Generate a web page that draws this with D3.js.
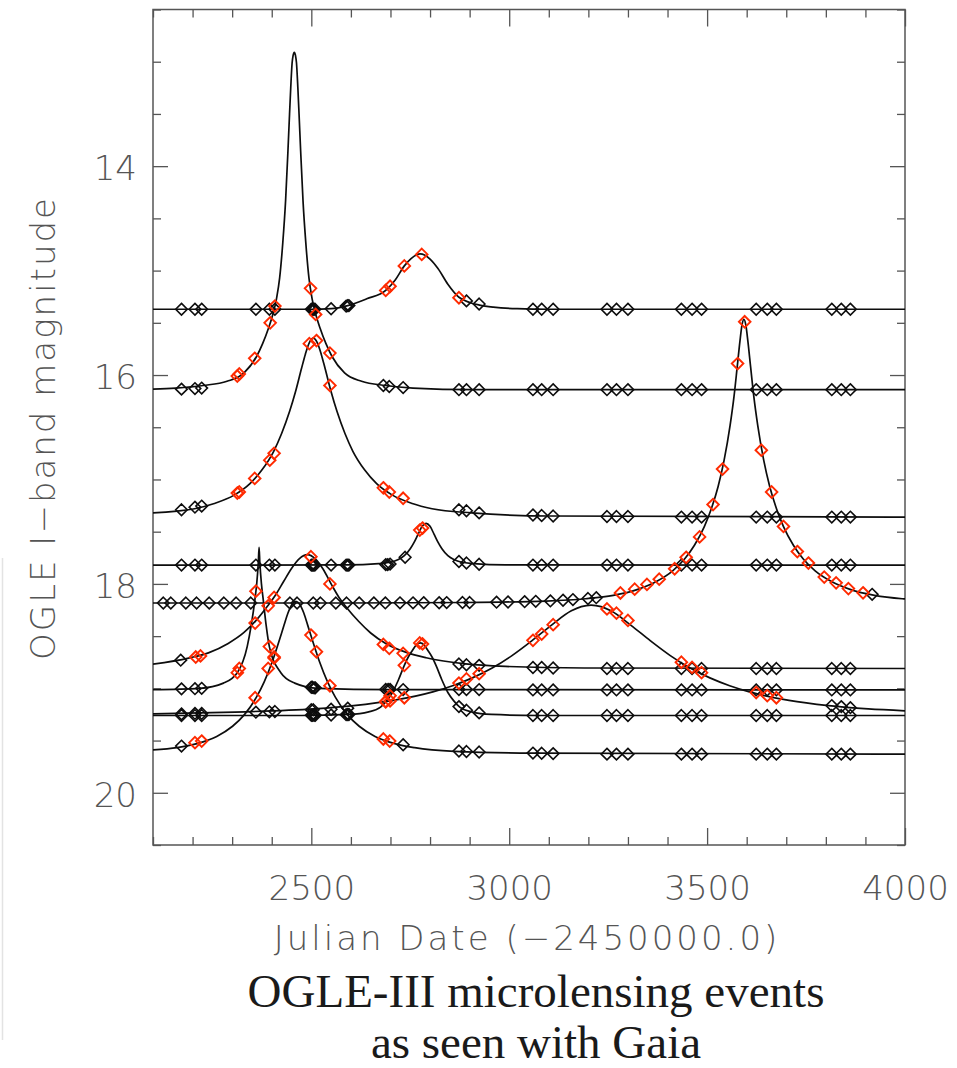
<!DOCTYPE html>
<html>
<head>
<meta charset="utf-8">
<script src="https://cdn.jsdelivr.net/npm/d3@7"></script>
<style>
  html, body { margin: 0; padding: 0; background: #fff; }
  svg { display: block; }
  .thin { font-family: "DejaVu Sans ExtraLight", "DejaVu Sans", sans-serif; font-weight: 200; fill: #555; }
</style>
</head>
<body>
<svg id="chart" width="957" height="1068"></svg>
<script>
// ---------------- axes ----------------
const xTicksMajor = [2500, 3000, 3500, 4000];
const yTicksMajor = [14, 16, 18, 20];
const xLabel = "Julian Date (\u22122450000.0)";
const yLabel = "OGLE I\u2212band magnitude";
const titleLines = ["OGLE-III microlensing events", "as seen with Gaia"];

// ---------------- model light curves [JD-2450000, I mag] ----------------
const lineA = [[2100,15.37],[2500,15.37],[2550,15.365],[2592,15.335],[2640,15.27],[2688,15.19],[2712,15.09],[2735,14.955],[2752,14.885],[2765,14.85],[2775,14.84],[2786,14.85],[2800,14.89],[2820,14.98],[2845,15.13],[2873,15.255],[2900,15.305],[2925,15.33],[2960,15.35],[3020,15.365],[3100,15.37],[4000,15.37]];
const lineB = [[2100,16.135],[2157,16.125],[2227,16.10],[2287,16.06],[2330,15.98],[2362,15.82],[2377,15.70],[2392,15.55],[2402,15.43],[2412,15.27],[2420,15.07],[2428,14.73],[2435,14.33],[2441,13.85],[2445,13.5],[2448,13.25],[2451.5,13.01],[2454,12.94],[2457,12.91],[2460,12.94],[2462.5,13.01],[2466,13.25],[2469,13.5],[2473,13.85],[2479,14.33],[2486,14.73],[2494,15.07],[2502,15.27],[2512,15.43],[2522,15.55],[2537,15.70],[2552,15.82],[2584,15.98],[2627,16.06],[2687,16.10],[2757,16.125],[2907,16.14],[4000,16.14]];
const lineC = [[2100,17.32],[2205,17.28],[2255,17.23],[2305,17.15],[2345,17.04],[2375,16.91],[2405,16.73],[2425,16.56],[2445,16.35],[2460,16.16],[2475,15.94],[2485,15.80],[2495,15.69],[2505,15.647],[2515,15.69],[2525,15.80],[2535,15.94],[2550,16.16],[2565,16.35],[2585,16.56],[2605,16.73],[2635,16.91],[2665,17.04],[2705,17.15],[2755,17.23],[2805,17.28],[2905,17.32],[3105,17.35],[4000,17.36]];
const lineD = [[2100,17.82],[2590,17.818],[2670,17.805],[2700,17.793],[2720,17.767],[2735,17.73],[2750,17.664],[2760,17.60],[2770,17.523],[2780,17.449],[2790,17.42],[2800,17.449],[2810,17.523],[2820,17.60],[2830,17.664],[2845,17.73],[2860,17.767],[2880,17.793],[2910,17.805],[2990,17.818],[4000,17.82]];
const lineE = [[2100,18.183],[2593,18.183],[2893,18.178],[3093,18.164],[3193,18.142],[3263,18.11],[3323,18.055],[3373,17.975],[3413,17.875],[3443,17.762],[3468,17.63],[3493,17.451],[3513,17.255],[3528,17.065],[3543,16.815],[3558,16.485],[3568,16.205],[3576,15.925],[3583,15.675],[3588,15.525],[3593,15.468],[3598,15.525],[3603,15.675],[3610,15.925],[3618,16.205],[3628,16.485],[3643,16.815],[3658,17.065],[3673,17.255],[3693,17.451],[3718,17.63],[3743,17.762],[3773,17.875],[3813,17.975],[3863,18.055],[3923,18.11],[3993,18.142],[4000,18.144]];
const lineF = [[2100,19.245],[2307,19.227],[2507,19.197],[2607,19.166],[2707,19.116],[2807,19.034],[2857,18.975],[2907,18.90],[2957,18.806],[3007,18.687],[3057,18.546],[3107,18.394],[3157,18.258],[3182,18.218],[3207,18.203],[3232,18.218],[3257,18.258],[3307,18.394],[3357,18.546],[3407,18.687],[3457,18.806],[3507,18.90],[3557,18.975],[3607,19.034],[3707,19.116],[3807,19.166],[3907,19.197],[4000,19.215]];
const lineG = [[2100,18.768],[2190,18.71],[2240,18.66],[2290,18.57],[2330,18.465],[2360,18.352],[2390,18.21],[2410,18.104],[2430,17.977],[2450,17.852],[2470,17.758],[2490,17.72],[2510,17.76],[2530,17.86],[2550,18.0],[2570,18.13],[2590,18.23],[2620,18.36],[2650,18.47],[2690,18.575],[2740,18.656],[2790,18.707],[2890,18.766],[2990,18.79],[3190,18.805],[4000,18.81]];
const lineH = [[2100,19.012],[2218,19.0],[2278,18.95],[2313,18.85],[2338,18.6],[2348,18.4],[2357.5,18.15],[2362,18.0],[2366,17.8],[2368,17.65],[2370,17.8],[2374,18.0],[2378.5,18.15],[2386,18.4],[2394,18.6],[2423,18.85],[2458,18.95],[2518,19.0],[2700,19.012],[4000,19.015]];
const lineI = [[2100,19.59],[2161,19.568],[2211,19.529],[2261,19.46],[2301,19.363],[2331,19.252],[2361,19.087],[2381,18.938],[2401,18.748],[2416,18.577],[2431,18.397],[2441,18.279],[2451,18.197],[2461,18.167],[2471,18.197],[2481,18.279],[2491,18.397],[2506,18.577],[2521,18.748],[2541,18.938],[2561,19.087],[2591,19.252],[2621,19.363],[2661,19.46],[2711,19.529],[2761,19.568],[2861,19.603],[3061,19.62],[4000,19.63]];
const lineJ = [[2100,19.26],[2475,19.26],[2595,19.25],[2645,19.225],[2675,19.18],[2690,19.12],[2705,19.04],[2720,18.92],[2735,18.78],[2745,18.70],[2755,18.64],[2765,18.585],[2775,18.565],[2785,18.585],[2795,18.64],[2805,18.70],[2815,18.78],[2830,18.92],[2845,19.04],[2860,19.12],[2875,19.18],[2905,19.225],[2955,19.25],[3075,19.26],[4000,19.26]];

// ---------------- measurements: baseline (black) and magnified (red) ----------------
const baseA = [[2172,15.37],[2206,15.37],[2223,15.37],[2360,15.37],[2394,15.37],[2408,15.37],[2500,15.37],[2503,15.37],[2506,15.37],[2509,15.37],[2550,15.365],[2588,15.34],[2592,15.335],[2595,15.335],[2892,15.29],[2924,15.32],[3060,15.37],[3082,15.37],[3111,15.37],[3247,15.37],[3271,15.37],[3300,15.37],[3435,15.37],[3462,15.37],[3486,15.37],[3624,15.37],[3652,15.37],[3675,15.37],[3815,15.37],[3839,15.37],[3862,15.37]];
const peakA = [[2688,15.19],[2699,15.15],[2735,14.955],[2779,14.845],[2873,15.26]];

const baseB = [[2172,16.135],[2206,16.13],[2223,16.125],[2682,16.10],[2697,16.11],[2732,16.12],[2873,16.14],[2892,16.14],[2924,16.14],[3060,16.14],[3082,16.14],[3111,16.14],[3247,16.14],[3271,16.14],[3300,16.14],[3435,16.14],[3462,16.14],[3486,16.14],[3624,16.14],[3652,16.14],[3675,16.14],[3815,16.14],[3839,16.14],[3862,16.14]];
const peakB = [[2313,16.01],[2318,15.99],[2357,15.84],[2396,15.50],[2408,15.34],[2498,15.17],[2511,15.42],[2547,15.79]];

const baseC = [[2172,17.29],[2206,17.265],[2223,17.255],[2873,17.29],[2892,17.30],[2924,17.32],[3060,17.34],[3082,17.345],[3111,17.35],[3247,17.355],[3271,17.355],[3300,17.355],[3435,17.36],[3462,17.36],[3486,17.36],[3624,17.36],[3652,17.36],[3675,17.36],[3815,17.36],[3839,17.36],[3862,17.36]];
const peakC = [[2313,17.13],[2318,17.12],[2357,16.99],[2395,16.815],[2406,16.75],[2495,15.70],[2513,15.67],[2547,16.10],[2682,17.08],[2697,17.12],[2732,17.18]];

const baseD = [[2172,17.82],[2206,17.82],[2223,17.82],[2360,17.82],[2394,17.82],[2408,17.82],[2500,17.82],[2503,17.82],[2506,17.82],[2509,17.82],[2550,17.82],[2588,17.82],[2592,17.82],[2595,17.82],[2688,17.815],[2693,17.815],[2699,17.81],[2737,17.745],[2873,17.785],[2892,17.80],[2924,17.812],[3060,17.82],[3082,17.82],[3111,17.82],[3247,17.82],[3271,17.82],[3300,17.82],[3435,17.82],[3462,17.82],[3486,17.82],[3624,17.82],[3652,17.82],[3675,17.82],[3815,17.82],[3839,17.82],[3862,17.82]];
const peakD = [[2774,17.485],[2781,17.465]];

const baseE = [[2126,18.183],[2145,18.183],[2183,18.183],[2210,18.183],[2242,18.183],[2279,18.183],[2310,18.183],[2347,18.183],[2446,18.183],[2464,18.183],[2505,18.183],[2523,18.183],[2562,18.183],[2589,18.183],[2621,18.182],[2658,18.182],[2687,18.182],[2724,18.181],[2757,18.181],[2784,18.18],[2823,18.18],[2842,18.179],[2882,18.178],[2900,18.178],[2968,18.175],[2997,18.173],[3039,18.17],[3067,18.167],[3104,18.163],[3136,18.156],[3161,18.15],[3199,18.14],[3220,18.132],[3917,18.10]];
const peakE = [[3281,18.087],[3317,18.05],[3348,18.005],[3379,17.955],[3418,17.855],[3447,17.745],[3481,17.55],[3515,17.24],[3539,16.90],[3577,15.89],[3595,15.49],[3637,16.72],[3663,17.12],[3693,17.45],[3728,17.69],[3756,17.80],[3796,17.935],[3826,17.99],[3857,18.045],[3894,18.085]];

const baseF = [[2172,19.245],[2206,19.24],[2223,19.24],[2360,19.228],[2394,19.225],[2408,19.222],[2500,19.205],[2505,19.205],[2550,19.2],[2592,19.19],[3815,19.165],[3839,19.175],[3862,19.185]];
const peakF = [[2688,19.125],[2699,19.12],[2735,19.09],[2873,18.95],[2892,18.91],[2924,18.86],[3060,18.54],[3082,18.48],[3111,18.39],[3247,18.24],[3271,18.28],[3300,18.35],[3435,18.75],[3462,18.80],[3486,18.85],[3624,19.04],[3652,19.07],[3675,19.09]];

const baseG = [[2170,18.73],[2873,18.767],[2892,18.774],[2924,18.78],[3060,18.80],[3082,18.80],[3111,18.805],[3247,18.81],[3271,18.81],[3300,18.81],[3435,18.81],[3462,18.81],[3486,18.81],[3624,18.81],[3652,18.81],[3675,18.81],[3815,18.81],[3839,18.81],[3862,18.81]];
const peakG = [[2208,18.70],[2220,18.69],[2358,18.375],[2391,18.21],[2406,18.13],[2499,17.74],[2547,18.0],[2682,18.58],[2697,18.617],[2732,18.665]];

const baseH = [[2172,19.005],[2206,19.003],[2223,19.0],[2500,18.99],[2503,18.99],[2507,18.995],[2510,18.995],[2688,19.01],[2694,19.01],[2699,19.01],[2732,19.012],[2873,19.012],[2892,19.012],[2924,19.012],[3060,19.015],[3082,19.015],[3111,19.015],[3247,19.015],[3271,19.015],[3300,19.015],[3435,19.015],[3462,19.015],[3486,19.015],[3624,19.015],[3652,19.015],[3675,19.015],[3815,19.015],[3839,19.015],[3862,19.015]];
const peakH = [[2313,18.85],[2318,18.81],[2360,18.07],[2394,18.6],[2406,18.70]];

const baseI = [[2172,19.553],[2732,19.54],[2873,19.60],[2892,19.605],[2924,19.61],[3060,19.62],[3082,19.622],[3111,19.625],[3247,19.63],[3271,19.63],[3300,19.63],[3435,19.63],[3462,19.63],[3486,19.63],[3624,19.63],[3652,19.63],[3675,19.63],[3815,19.63],[3839,19.63],[3862,19.63]];
const peakI = [[2206,19.52],[2223,19.505],[2358,19.09],[2391,18.81],[2406,18.71],[2499,18.49],[2513,18.65],[2547,18.975],[2682,19.485],[2698,19.505]];

const baseJ = [[2172,19.26],[2206,19.26],[2223,19.26],[2500,19.258],[2503,19.258],[2507,19.258],[2510,19.258],[2550,19.255],[2588,19.252],[2592,19.25],[2595,19.25],[2873,19.175],[2892,19.21],[2924,19.235],[3060,19.26],[3082,19.26],[3111,19.26],[3247,19.26],[3271,19.26],[3300,19.26],[3435,19.26],[3462,19.26],[3486,19.26],[3624,19.26],[3652,19.26],[3675,19.26],[3815,19.26],[3839,19.26],[3862,19.26]];
const peakJ = [[2688,19.13],[2699,19.07],[2735,18.78],[2774,18.565],[2781,18.575]];

const events = [
  { line: lineA, base: baseA, peak: peakA },
  { line: lineB, base: baseB, peak: peakB },
  { line: lineC, base: baseC, peak: peakC },
  { line: lineD, base: baseD, peak: peakD },
  { line: lineE, base: baseE, peak: peakE },
  { line: lineF, base: baseF, peak: peakF },
  { line: lineG, base: baseG, peak: peakG },
  { line: lineH, base: baseH, peak: peakH },
  { line: lineI, base: baseI, peak: peakI },
  { line: lineJ, base: baseJ, peak: peakJ }
];

// ---------------- drawing ----------------
const svg = d3.select("#chart");
const area = { left: 153, right: 905, top: 9.5, bottom: 845 };

const x = d3.scaleLinear().domain([2100, 4000]).range([area.left, area.right]);
const y = d3.scaleLinear().domain([12.5, 20.5]).range([area.top, area.bottom]); // magnitudes grow downward

const axisColor = "#555";

// thin rule along the left page edge
svg.append("line")
  .attr("x1", 2.5).attr("x2", 2.5).attr("y1", 558).attr("y2", 1040)
  .attr("stroke", "#e3e3e3").attr("stroke-width", 1.5);

svg.append("clipPath").attr("id", "plotClip")
  .append("rect")
  .attr("x", area.left).attr("y", area.top)
  .attr("width", area.right - area.left).attr("height", area.bottom - area.top);

// ticks on all four sides, pointing inward
const xMinor = d3.range(2100, 4001, 100).filter(v => !xTicksMajor.includes(v));
const yMinor = d3.range(12.5, 20.51, 0.5).filter(v => !yTicksMajor.includes(v));

function tidy(g) {
  g.select(".domain").remove();
  g.attr("font-family", null).attr("font-size", null);
  g.selectAll(".tick line").attr("stroke", axisColor).attr("stroke-width", 1.3);
}

svg.append("g").attr("transform", `translate(0,${area.bottom})`)
  .call(d3.axisBottom(x).tickValues(xMinor).tickSize(-8).tickFormat(""))
  .call(tidy);
const xAxisG = svg.append("g").attr("transform", `translate(0,${area.bottom})`)
  .call(d3.axisBottom(x).tickValues(xTicksMajor).tickSize(-17).tickPadding(31).tickFormat(d3.format("d")))
  .call(tidy);
xAxisG.selectAll("text").attr("class", "thin").attr("fill", null).style("font-size", "34px");

svg.append("g").attr("transform", `translate(0,${area.top})`)
  .call(d3.axisTop(x).tickValues(xMinor).tickSize(-8).tickFormat(""))
  .call(tidy);
svg.append("g").attr("transform", `translate(0,${area.top})`)
  .call(d3.axisTop(x).tickValues(xTicksMajor).tickSize(-17).tickFormat(""))
  .call(tidy);

svg.append("g").attr("transform", `translate(${area.left},0)`)
  .call(d3.axisLeft(y).tickValues(yMinor).tickSize(-8).tickFormat(""))
  .call(tidy);
const yAxisG = svg.append("g").attr("transform", `translate(${area.left},0)`)
  .call(d3.axisLeft(y).tickValues(yTicksMajor).tickSize(-15).tickPadding(16).tickFormat(d3.format("d")))
  .call(tidy);
yAxisG.selectAll("text").attr("class", "thin").attr("fill", null).attr("dy", "0.4em").style("font-size", "34px");

svg.append("g").attr("transform", `translate(${area.right},0)`)
  .call(d3.axisRight(y).tickValues(yMinor).tickSize(-8).tickFormat(""))
  .call(tidy);
svg.append("g").attr("transform", `translate(${area.right},0)`)
  .call(d3.axisRight(y).tickValues(yTicksMajor).tickSize(-15).tickFormat(""))
  .call(tidy);

// frame
svg.append("rect")
  .attr("x", area.left).attr("y", area.top)
  .attr("width", area.right - area.left).attr("height", area.bottom - area.top)
  .attr("fill", "none").attr("stroke", axisColor).attr("stroke-width", 1.5);

// light curves
const plotG = svg.append("g").attr("clip-path", "url(#plotClip)");
const lineGen = d3.line()
  .x(d => x(d[0]))
  .y(d => y(d[1]))
  .curve(d3.curveMonotoneX);

plotG.selectAll("path.curve")
  .data(events)
  .join("path")
  .attr("class", "curve")
  .attr("d", d => lineGen(d.line))
  .attr("fill", "none")
  .attr("stroke", "#0d0d0d")
  .attr("stroke-width", 1.7);

// open diamonds
const diamond = "M0,-5.8L5.8,0L0,5.8L-5.8,0Z";
plotG.selectAll("path.base")
  .data(events.flatMap(e => e.base))
  .join("path")
  .attr("class", "base")
  .attr("d", diamond)
  .attr("transform", d => `translate(${x(d[0])},${y(d[1])})`)
  .attr("fill", "none")
  .attr("stroke", "#0d0d0d")
  .attr("stroke-width", 1.6);

plotG.selectAll("path.peak")
  .data(events.flatMap(e => e.peak))
  .join("path")
  .attr("class", "peak")
  .attr("d", diamond)
  .attr("transform", d => `translate(${x(d[0])},${y(d[1])})`)
  .attr("fill", "none")
  .attr("stroke", "#ff2a00")
  .attr("stroke-width", 1.9);

// axis titles
svg.append("text")
  .attr("class", "thin")
  .attr("x", 527).attr("y", 950)
  .attr("text-anchor", "middle")
  .style("font-size", "34px")
  .style("letter-spacing", "3px")
  .text(xLabel);

svg.append("text")
  .attr("class", "thin")
  .attr("transform", "translate(55,428) rotate(-90)")
  .attr("text-anchor", "middle")
  .style("font-size", "34px")
  .style("letter-spacing", "2px")
  .text(yLabel);

// caption
svg.selectAll("text.caption")
  .data(titleLines)
  .join("text")
  .attr("class", "caption")
  .attr("x", 536)
  .attr("y", (d, i) => 1007 + i * 51)
  .attr("text-anchor", "middle")
  .attr("font-family", "'Liberation Serif', 'Times New Roman', serif")
  .attr("font-size", 47)
  .attr("fill", "#1a1a1a")
  .text(d => d);
</script>
</body>
</html>
